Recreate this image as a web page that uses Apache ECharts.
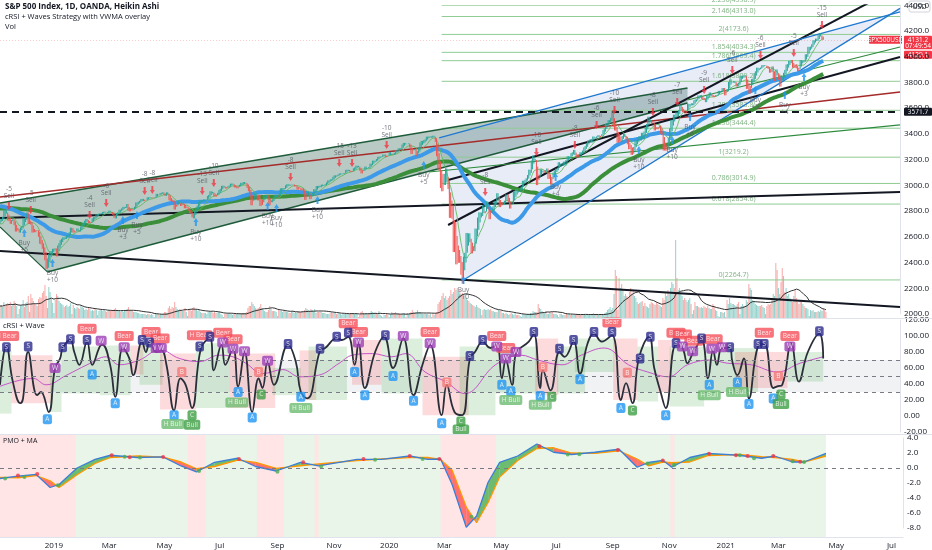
<!DOCTYPE html>
<html>
<head>
<meta charset="utf-8">
<script src="https://cdn.jsdelivr.net/npm/echarts@6/dist/echarts.min.js"></script>
<style>
html, body { margin: 0; padding: 0; background: #fff; }
#main { width: 932px; height: 550px; }
</style>
</head>
<body>
<div id="main"></div>
<script>
var FONT = '"Open Sans", "Liberation Sans", sans-serif';
var NBARS = 704;

// daily closes before the visible range (only used to warm up the averages)
var warmClose = [
  2782, 2787, 2775, 2782, 2780, 2774, 2762, 2767, 2749, 2754,
  2717, 2723, 2699, 2716, 2718, 2726, 2713, 2713, 2736, 2759,
  2784, 2793, 2774, 2798, 2801, 2798, 2809, 2815, 2804, 2801,
  2806, 2820, 2846, 2837, 2818, 2802, 2816, 2813, 2827, 2840,
  2850, 2858, 2857, 2853, 2833, 2821, 2839, 2818, 2840, 2850,
  2857, 2862, 2861, 2856, 2874, 2896, 2897, 2914, 2901, 2902,
  2902, 2897, 2888, 2878, 2872, 2877, 2888, 2888, 2904, 2905,
  2888, 2904, 2907, 2931, 2930, 2919, 2915, 2906, 2915, 2914,
  2924, 2923, 2925, 2901, 2885, 2884, 2881, 2786, 2728, 2767,
  2750, 2810, 2809, 2768, 2768, 2756, 2741, 2656, 2705, 2658,
  2641, 2682, 2711, 2740
];

// daily closes from 2018-11-02 (one per weekday)
var close = [
  2723,
  2738, 2755, 2814, 2806, 2781,  2726, 2722, 2701, 2730, 2736,
  2690, 2641, 2649, 2652, 2633,  2673, 2682, 2744, 2738, 2760,
  2790, 2700, 2702, 2695, 2633,  2637, 2636, 2651, 2650, 2600,
  2546, 2542, 2507, 2467, 2417,  2351, 2360, 2468, 2489, 2486,
  2507, 2508, 2510, 2448, 2532,
  2550, 2574, 2585, 2597, 2596,  2583, 2610, 2616, 2636, 2671,
  2668, 2633, 2639, 2643, 2665,  2644, 2640, 2681, 2704, 2707,
  2725, 2738, 2731, 2706, 2708,  2710, 2744, 2753, 2746, 2776,
  2777, 2780, 2784, 2775, 2793,  2796, 2794, 2792, 2784, 2804,
  2792, 2789, 2771, 2749, 2743,  2784, 2792, 2811, 2808, 2822,
  2833, 2833, 2825, 2855, 2801,  2798, 2818, 2805, 2815, 2834,
  2867, 2867, 2873, 2880, 2893,  2895, 2878, 2888, 2888, 2907,
  2905, 2907, 2900, 2905, 2906,  2908, 2934, 2927, 2926, 2940,
  2943, 2946, 2924, 2918, 2946,  2932, 2884, 2880, 2871, 2881,
  2812, 2834, 2850, 2876, 2860,  2840, 2864, 2856, 2822, 2826,
  2828, 2802, 2783, 2788, 2752,  2744, 2803, 2826, 2843, 2873,
  2886, 2885, 2879, 2891, 2887,  2889, 2917, 2926, 2954, 2950,
  2945, 2917, 2913, 2924, 2942,  2964, 2973, 2996, 2997, 2990,
  2976, 2980, 2993, 3000, 3014,  3014, 3004, 2984, 2995, 2977,
  2986, 3005, 3020, 3004, 3026,  3021, 3013, 2980, 2954, 2932,
  2845, 2881, 2884, 2938, 2919,  2883, 2926, 2840, 2848, 2889,
  2924, 2901, 2925, 2923, 2847,  2878, 2869, 2888, 2924, 2926,
  2924, 2906, 2938, 2976, 2979,  2978, 2979, 3000, 3009, 3007,
  2998, 3005, 3006, 3006, 2992,  2992, 2966, 2984, 2977, 2961,
  2977, 2940, 2887, 2910, 2952,  2938, 2893, 2919, 2938, 2970,
  2966, 2995, 2990, 2997, 2986,  3006, 2996, 3004, 3010, 3023,
  3039, 3036, 3047, 3038, 3067,  3078, 3075, 3077, 3085, 3093,
  3087, 3091, 3094, 3096, 3120,  3122, 3120, 3108, 3104, 3110,
  3133, 3140, 3153, 3152, 3141,  3114, 3093, 3113, 3118, 3146,
  3135, 3133, 3142, 3169, 3169,  3192, 3192, 3191, 3205, 3221,
  3224, 3223, 3224, 3240, 3240,  3221, 3231, 3232, 3258, 3235,
  3246, 3237, 3253, 3275, 3265,  3288, 3283, 3289, 3317, 3330,
  3328, 3321, 3321, 3326, 3295,  3244, 3276, 3273, 3284, 3226,
  3249, 3298, 3334, 3346, 3328,  3352, 3358, 3379, 3374, 3380,
  3381, 3370, 3386, 3373, 3338,  3226, 3128, 3116, 2979, 2954,
  3090, 3003, 3130, 3023, 2972,  2747, 2882, 2741, 2481, 2711,
  2386, 2529, 2398, 2409, 2305,  2237, 2447, 2476, 2630, 2541,
  2627, 2585, 2471, 2527, 2489,  2664, 2659, 2750, 2790, 2789,
  2762, 2846, 2783, 2800, 2875,  2823, 2737, 2799, 2798, 2837,
  2878, 2863, 2939, 2912, 2831,  2842, 2868, 2848, 2881, 2930,
  2930, 2870, 2820, 2852, 2864,  2954, 2923, 2972, 2949, 2955,
  2957, 2992, 3036, 3030, 3044,  3056, 3080, 3122, 3112, 3194,
  3232, 3207, 3190, 3002, 3041,  3067, 3125, 3113, 3115, 3098,
  3118, 3131, 3050, 3084, 3009,  3053, 3100, 3116, 3130, 3131,
  3180, 3145, 3170, 3152, 3185,  3155, 3197, 3227, 3216, 3225,
  3251, 3257, 3276, 3236, 3216,  3239, 3218, 3258, 3246, 3271,
  3295, 3306, 3327, 3349, 3351,  3360, 3333, 3380, 3373, 3373,
  3381, 3390, 3375, 3385, 3397,  3431, 3443, 3479, 3484, 3508,
  3500, 3526, 3580, 3455, 3427,  3425, 3332, 3399, 3339, 3341,
  3384, 3401, 3385, 3357, 3319,  3281, 3315, 3237, 3246, 3298,
  3351, 3335, 3363, 3381, 3348,  3409, 3361, 3419, 3446, 3477,
  3534, 3512, 3489, 3483, 3484,  3427, 3443, 3436, 3453, 3465,
  3401, 3391, 3271, 3310, 3270,  3310, 3370, 3443, 3510, 3509,
  3550, 3546, 3572, 3537, 3585,  3627, 3610, 3568, 3582, 3558,
  3578, 3635, 3630, 3632, 3638,  3622, 3662, 3669, 3666, 3699,
  3691, 3702, 3673, 3668, 3663,  3647, 3695, 3701, 3722, 3709,
  3694, 3687, 3690, 3702, 3703,  3735, 3727, 3732, 3756, 3757,
  3700, 3726, 3748, 3804, 3824,  3799, 3801, 3810, 3795, 3768,
  3770, 3799, 3852, 3853, 3841,  3855, 3849, 3750, 3787, 3714,
  3774, 3826, 3830, 3872, 3887,  3915, 3911, 3910, 3916, 3934,
  3935, 3932, 3931, 3913, 3906,  3876, 3881, 3925, 3829, 3811,
  3901, 3870, 3820, 3768, 3842,  3821, 3875, 3898, 3939, 3943,
  3968, 3962, 3974, 3915, 3913,  3940, 3910, 3889, 3909, 3974,
  3971, 3958, 3973, 4019, 4020,  4077, 4073, 4079, 4097, 4128,
  4127, 4141, 4124, 4170, 4185,  4163, 4134, 4131
];

// daily volume, same bars as close (relative height)
var volume = [
  12,
  13, 11, 16, 12, 14,  15, 13, 16, 12, 14,  17, 15, 12, 4, 9,  13, 12, 18, 11, 15,
  16, 22, 6, 24, 20,  17, 14, 13, 12, 19,  21, 20, 25, 27, 33,  22, 10, 31, 26, 19,
  15, 5, 18, 24, 22,
  17, 15, 14, 13, 11,  12, 13, 11, 12, 15,  4, 13, 10, 9, 11,  10, 9, 12, 11, 10,
  8, 9, 8, 10, 9,  7, 8, 7, 9, 8,  3, 7, 8, 9, 7,  8, 7, 6, 7, 8,
  8, 7, 7, 9, 10,  8, 7, 7, 6, 8,  6, 7, 8, 9, 11,  8, 7, 7, 6, 6,
  6, 5, 5, 4, 4,  4, 4, 4, 3, 4,  4, 3, 4, 3, 1,  4, 4, 4, 3, 4,
  4, 4, 6, 6, 5,  10, 12, 9, 11, 10,  16, 11, 9, 8, 9,  8, 7, 7, 10, 6,
  2, 9, 8, 7, 10,  11, 9, 8, 7, 8,  6, 5, 5, 5, 5,  4, 6, 6, 7, 6,
  5, 6, 5, 5, 6,  6, 4, 3, 1, 4,  4, 4, 5, 4, 4,  3, 4, 5, 4, 5,
  4, 4, 5, 5, 5,  5, 6, 10, 12, 12,  16, 14, 12, 10, 9,  10, 11, 14, 10, 8,
  7, 6, 6, 8, 12,  9, 7, 7, 7, 6,  2, 8, 7, 7, 6,  7, 7, 6, 6, 5,
  5, 6, 7, 5, 6,  5, 7, 6, 6, 7,  6, 8, 10, 9, 8,  7, 9, 8, 7, 9,
  5, 6, 6, 6, 6,  5, 5, 5, 4, 4,  4, 5, 6, 5, 5,  5, 4, 4, 5, 4,
  3, 4, 4, 4, 4,  4, 4, 5, 5, 4,  4, 4, 4, 1, 3,  6, 7, 5, 4, 5,
  4, 4, 5, 7, 6,  5, 5, 4, 4, 7,  3, 2, 1, 3, 3,  4, 3, 1, 4, 6,
  5, 5, 6, 4, 5,  4, 4, 4, 5, 5,  1, 5, 4, 5, 6,  8, 6, 5, 6, 8,
  6, 6, 5, 4, 4,  4, 4, 4, 3, 4,  1, 4, 3, 4, 6,  14, 16, 18, 22, 25,
  20, 22, 18, 20, 22,  28, 24, 26, 30, 28,  30, 26, 28, 24, 25,  22, 24, 20, 18, 17,
  15, 14, 13, 12, 11,  13, 11, 10, 9, 3,  8, 9, 8, 8, 9,  8, 9, 7, 7, 6,
  6, 6, 8, 7, 7,  5, 5, 4, 5, 4,  3, 4, 5, 4, 3,  5, 3, 3, 3, 2,
  1, 4, 4, 3, 4,  4, 4, 5, 5, 7,  6, 6, 6, 14, 10,  9, 7, 5, 5, 7,
  4, 4, 6, 5, 6,  4, 4, 4, 3, 1,  4, 4, 3, 3, 3,  5, 4, 4, 3, 4,
  3, 3, 4, 4, 4,  3, 3, 4, 4, 4,  3, 3, 3, 3, 3,  4, 5, 4, 3, 3,
  3, 3, 4, 4, 3,  5, 6, 8, 9, 11,  8, 10, 24, 48, 42,  8, 40, 30, 34, 28,
  22, 24, 22, 20, 26,  30, 24, 28, 22, 20,  16, 14, 15, 16, 17,  12, 15, 12, 11, 10,
  14, 16, 15, 14, 13,  16, 14, 13, 12, 11,  20, 18, 26, 22, 28,  24, 30, 36, 34, 30,
  80, 40, 28, 30, 24,  22, 18, 20, 18, 16,  18, 20, 14, 4, 8,  16, 12, 12, 11, 10,
  11, 10, 12, 11, 10,  12, 10, 9, 9, 14,  12, 8, 7, 2, 1,  6, 6, 5, 6, 1,
  18, 14, 20, 15, 14,  14, 13, 12, 14, 16,  4, 12, 14, 12, 11,  18, 16, 34, 30, 28,
  18, 16, 14, 13, 12,  12, 12, 13, 11, 10,  4, 12, 14, 13, 14,  20, 24, 22, 55, 48,
  30, 24, 36, 50, 42,  26, 30, 22, 24, 20,  18, 16, 22, 28, 20,  16, 14, 18, 16, 14,
  12, 10, 10, 9, 2,  8, 7, 8, 6, 6,  6, 7, 6, 8, 7,  9, 8, 6
];

// fibonacci retracement levels
var fibRatios = ['0', '0.618', '0.786', '1', '1.236', '1.382', '1.618', '1.786', '1.854', '2', '2.146', '2.236'];
var fibPrices = [2264.7, 2854.6, 3014.9, 3219.2, 3444.4, 3583.8, 3809.2, 3969.4, 4034.3, 4173.6, 4313.0, 4398.9];
var fibStart = 345, fibEnd = 703, fibLabelAt = 573;

// drawn trend lines [bar, price]
var redLine = [[0, 2910], [703, 3726]];
var blackA = [[0, 2490], [703, 2054]];
var blackB = [[0, 2746], [703, 2949]];
var blackC = [[350, 2692], [703, 4548]];
var blackD = [[350, 3042], [703, 3998]];
var greenThin1 = [[335, 3104], [703, 3470]];
var greenThin2 = [[537, 3664], [703, 4076]];
var channelPoly = [[0, 2863], [537, 3757], [537, 3641], [37, 2327], [0, 2677]];
var channelUpper = [[0, 2863], [537, 3757]];
var channelLower = [[37, 2327], [537, 3641]];
var channelLeft = [[0, 2677], [37, 2327]];
var wedgePoly = [[343, 3369], [703, 4348], [703, 4376], [362, 2264]];
var wedgeUpper = [[343, 3369], [703, 4348]];
var wedgeLower = [[362, 2264], [703, 4376]];
var lastPrice = 4131.2, markedLevel = 3571.7;

// strategy signals [bar, price, size]
var sells = [[7, 2840, -5], [24, 2809, -5], [70, 2770, -4], [83, 2863, -6], [113, 2956, -8], [119, 2964, -8],
  [158, 2956, -13], [167, 3019, -10], [227, 3065, -8], [265, 3174, -15], [275, 3174, -13], [302, 3314, -10],
  [379, 2949, -8], [419, 3260, -10], [449, 3314, -8], [466, 3470, -6], [480, 3586, -10], [510, 3571, -8],
  [529, 3648, -7], [550, 3742, -9], [572, 3897, -6], [594, 4014, -6], [620, 4030, -5], [642, 4247, -15]];
var buys = [[19, 2630, 5], [41, 2397, 10], [96, 2731, 3], [107, 2770, 5], [153, 2715, 10], [209, 2840, 10],
  [216, 2824, 10], [248, 2886, 10], [331, 3159, 5], [362, 2264, 10], [434, 3065, 4], [499, 3275, 10],
  [525, 3353, 10], [539, 3532, 6], [590, 3742, 5], [613, 3703, 4], [628, 3843, 3]];

// cRSI pane
var crsiLine = [[0, 39], [5, 88], [10, 43], [16, 16], [18, 22], [22, 80], [29, 26], [32, 30], [38, 5], [43, 60],
  [47, 72], [49, 85], [55, 95], [58, 80], [62, 64], [68, 93], [72, 64], [78, 87], [80, 89], [86, 64], [90, 24],
  [96, 85], [101, 72], [104, 51], [111, 93], [114, 80], [117, 93], [122, 80], [126, 82], [130, 64], [136, 7],
  [141, 47], [145, 39], [150, 10], [157, 85], [164, 97], [167, 57], [173, 89], [176, 64], [182, 85], [186, 37],
  [191, 80], [197, 5], [202, 47], [205, 35], [209, 68], [214, 39], [225, 89], [231, 68], [235, 30], [240, 22],
  [250, 82], [254, 85], [263, 97], [267, 95], [272, 99], [277, 64], [280, 91], [285, 35], [293, 80], [300, 99],
  [307, 60], [315, 97], [323, 26], [330, 64], [336, 89], [345, 1], [349, 39], [355, 5], [361, 1], [367, 72],
  [371, 80], [377, 93], [383, 85], [388, 89], [392, 47], [395, 70], [400, 39], [403, 78], [413, 93], [417, 103],
  [422, 35], [424, 57], [430, 32], [437, 80], [441, 74], [448, 93], [453, 53], [459, 91], [464, 103], [470, 93],
  [478, 101], [485, 20], [489, 41], [494, 16], [499, 72], [507, 99], [511, 60], [516, 30], [520, 10], [528, 89],
  [533, 85], [537, 66], [541, 78], [548, 95], [553, 47], [557, 82], [560, 64], [564, 85], [570, 85], [572, 68],
  [576, 51], [581, 72], [585, 22], [592, 87], [597, 90], [604, 35], [607, 37], [611, 39], [618, 91], [624, 43],
  [631, 80], [640, 103], [643, 72]];
var crsiSignal = [[0, 37], [26, 47], [36, 39], [52, 51], [68, 64], [83, 74], [93, 64], [109, 70], [125, 83],
  [140, 72], [156, 68], [171, 76], [182, 74], [192, 66], [205, 53], [221, 58], [234, 49], [249, 51], [265, 66],
  [275, 76], [291, 78], [306, 74], [317, 78], [332, 55], [348, 43], [363, 28], [387, 64], [407, 76], [420, 70],
  [439, 64], [454, 76], [472, 85], [491, 64], [506, 55], [522, 49], [537, 64], [555, 70], [568, 66], [587, 64],
  [607, 55], [625, 66], [643, 74]];
// wave zones [fromBar, toBar, low, high, 1 = green / 0 = red]
var waveBoxes = [[0, 9, 3, 82, 1], [9, 41, 16, 76, 0], [39, 48, 5, 64, 1], [48, 78, 28, 87, 1], [78, 102, 26, 88, 1],
  [102, 112, 52, 88, 0], [109, 127, 39, 91, 1], [125, 153, 8, 78, 0], [153, 179, 10, 91, 1], [179, 215, 10, 78, 0],
  [213, 235, 26, 60, 1], [234, 247, 20, 82, 0], [241, 271, 20, 87, 1], [275, 298, 39, 95, 0], [298, 330, 28, 97, 1],
  [330, 366, 1, 74, 0], [359, 387, 1, 87, 1], [387, 420, 28, 87, 1], [418, 436, 26, 97, 0], [435, 457, 28, 87, 1],
  [449, 480, 55, 97, 1], [479, 498, 20, 97, 0], [498, 514, 18, 87, 1], [514, 524, 30, 95, 0], [523, 550, 12, 87, 1],
  [550, 592, 30, 85, 1], [574, 615, 35, 80, 0], [615, 643, 43, 80, 1]];
var tagBear = [[68, 109], [97, 100], [118, 105], [125, 97], [174, 104], [182, 96], [272, 116], [280, 105], [336, 105],
  [388, 100], [395, 85], [478, 117], [528, 104], [533, 102], [542, 94], [557, 96], [597, 104], [617, 100]];
var tagHBear = [[5, 100], [156, 101]];
var tagS = [[5, 86], [22, 87], [49, 86], [55, 96], [68, 95], [111, 95], [117, 92], [156, 87], [164, 99], [225, 90],
  [250, 84], [263, 99], [272, 104], [301, 101], [367, 75], [377, 95], [417, 105], [437, 84], [448, 95], [464, 105],
  [478, 105], [500, 72], [508, 99], [528, 91], [548, 97], [570, 86], [592, 90], [597, 90], [640, 106]];
var tagW = [[43, 60], [79, 94], [97, 86], [122, 85], [126, 85], [174, 92], [182, 84], [191, 81], [209, 69], [280, 92],
  [315, 100], [336, 91], [388, 87], [395, 72], [403, 80], [533, 87], [541, 81], [556, 84], [564, 86], [617, 87]];
var tagA = [[37, -4], [72, 52], [90, 16], [136, 1], [186, 30], [197, -2], [235, 24], [277, 55], [285, 26], [307, 50],
  [323, 19], [345, -9], [392, 39], [399, 31], [422, 25], [453, 46], [485, 10], [520, 1], [554, 39], [576, 42],
  [585, 15], [604, 22]];
var tagB = [[142, 55], [202, 55], [349, 42], [424, 61], [490, 54], [608, 50]];
var tagC = [[150, 1], [204, 27], [360, -7], [431, 24], [494, 7], [610, 27]];
var tagHBull = [[135, -10], [185, 17], [235, 10], [399, 20], [422, 14], [554, 26], [576, 30]];
var tagBull = [[150, -11], [360, -17], [610, 15]];

// PMO pane
var pmoIdx = [0, 14, 28, 39, 46, 60, 74, 86, 107, 127, 141, 153, 167, 185, 199, 215, 234, 248, 278, 297, 319, 333,
  343, 352, 363, 371, 380, 389, 403, 418, 431, 445, 463, 482, 496, 505, 516, 523, 537, 551, 575, 593, 603, 617, 626, 643];
var pmoVal = [-1.4, -1.07, -0.85, -2.6, -2.2, 0, 1.16, 1.7, 1.4, 1.47, 0.27, -0.53, 0.76, 1.3, 0.2, -0.4, 0.76, 0.27,
  1.16, 1.16, 1.6, 1.16, 1.2, -2.2, -7.9, -6.4, -1.9, 0.76, 1.6, 3.2, 2.1, 1.8, 2.1, 2.5, 0.1, 0.76, 1.03, 0.1, 1.4,
  1.96, 1.7, 1.3, 1.6, 0.8, 0.8, 1.96];
var pmoSig = [-1.25, -1.3, -1.0, -1.7, -2.6, -0.9, 0.6, 1.4, 1.6, 1.45, 0.8, -0.1, 0.2, 1.05, 0.75, -0.05, 0.3, 0.55,
  1.0, 1.2, 1.4, 1.4, 1.15, -0.3, -5.2, -7.3, -4.6, -1.2, 1.0, 2.6, 2.7, 2.0, 1.95, 2.3, 1.2, 0.3, 0.8, 0.7, 0.8,
  1.65, 1.8, 1.5, 1.4, 1.15, 0.8, 1.6];
var pmoDotsRed = [[14, -1.0], [29, -0.8], [87, 1.7], [101, 1.45], [127, 1.47], [186, 1.2], [236, 0.76], [283, 1.2],
  [319, 1.6], [342, 1.2], [420, 2.9], [481, 2.4], [516, 1.0], [552, 1.9], [573, 1.7], [582, 1.6], [602, 1.6], [623, 0.85]];
var pmoDotsGreen = [[4, -1.4], [19, -1.2], [45, -2.3], [97, 1.5], [109, 1.4], [155, -0.4], [216, -0.5], [250, 0.2],
  [292, 1.1], [329, 1.2], [367, -6.5], [442, 1.8], [451, 1.85], [504, 0.6], [525, 0.4], [576, 1.7], [587, 1.3],
  [617, 0.9], [626, 0.8]];
// trend background [fromBar, toBar, 1 = up / 0 = down]
var trendBands = [[0, 59, 0], [59, 146, 1], [146, 160, 0], [160, 200, 1], [200, 221, 0], [221, 245, 1], [245, 248, 0],
  [248, 343, 1], [343, 386, 0], [386, 522, 1], [522, 525, 0], [525, 643, 1]];

var MONTHS = ['Jan', 'Feb', 'Mar', 'Apr', 'May', 'Jun', 'Jul', 'Aug', 'Sep', 'Oct', 'Nov', 'Dec'];

// weekday categories
var dates = [];
var d = new Date(Date.UTC(2018, 10, 2));
while (dates.length < NBARS) {
  var wd = d.getUTCDay();
  if (wd !== 0 && wd !== 6) dates.push(new Date(d.getTime()));
  d.setUTCDate(d.getUTCDate() + 1);
}
var cats = dates.map(function (t) { return t.toISOString().slice(0, 10); });

function showTick(i) {
  if (i === 0) return false;
  var m = dates[i].getUTCMonth();
  return m !== dates[i - 1].getUTCMonth() && m % 2 === 0;
}

// heikin ashi from closes
var all = warmClose.concat(close);
var W = warmClose.length;
var haO = [], haC = [], candles = [];
for (var i = 0; i < all.length; i++) {
  var o = i ? all[i - 1] : all[0], c = all[i];
  var hc = (o + c) / 2;
  var ho = i ? (haO[i - 1] + haC[i - 1]) / 2 : hc;
  haO.push(ho); haC.push(hc);
  if (i >= W) candles.push([ho, hc, Math.min(o, c, ho), Math.max(o, c, ho)]);
}

function sma(arr, n, from) {
  var out = [];
  for (var i = from; i < arr.length; i++) {
    var s = 0, k = 0;
    for (var j = Math.max(0, i - n + 1); j <= i; j++) { s += arr[j]; k++; }
    out.push(+(s / k).toFixed(1));
  }
  return out;
}
var maSlow = sma(all, 100, W);
var maMid = sma(all, 50, W);
var maFast = sma(all, 10, W);
var volMa = sma(volume, 20, 0);

var volBars = volume.map(function (v, i) {
  var prev = i ? close[i - 1] : warmClose[W - 1];
  return { value: v, itemStyle: { color: close[i] >= prev ? 'rgba(38,166,154,0.5)' : 'rgba(239,83,80,0.5)' } };
});

function xAx(grid, labels) {
  return {
    type: 'category', gridIndex: grid, data: cats, boundaryGap: false,
    axisLine: { show: labels, lineStyle: { color: '#e0e3eb' } }, axisTick: { show: false },
    splitLine: { show: false },
    axisLabel: labels ? {
      interval: function (idx) { return showTick(idx); },
      formatter: function (v, idx) {
        var t = dates[idx];
        return t.getUTCMonth() === 0 ? String(t.getUTCFullYear()) : MONTHS[t.getUTCMonth()];
      },
      color: '#131722', fontSize: 8, fontFamily: FONT, margin: 5
    } : { show: false }
  };
}
function yAx(grid, min, max, interval, digits) {
  var ax = {
    type: 'value', gridIndex: grid, min: min, max: max, position: 'right',
    splitLine: { show: false }, axisTick: { show: false }
  };
  if (interval === null) {
    ax.show = false;
  } else {
    ax.interval = interval;
    ax.axisLine = { show: true, lineStyle: { color: '#e0e3eb' } };
    ax.axisLabel = { color: '#131722', fontSize: 8, fontFamily: FONT, margin: 4,
      formatter: function (v) { return v.toFixed(digits); } };
  }
  return ax;
}
function seg(data, color, width, z, dash) {
  return { type: 'line', xAxisIndex: 0, yAxisIndex: 0, data: data, symbol: 'none', silent: true, z: z || 3,
    lineStyle: { color: color, width: width, type: dash || 'solid' } };
}
function polygon(points, fill) {
  return {
    type: 'custom', xAxisIndex: 0, yAxisIndex: 0, data: [[0, 3000]], clip: true, silent: true, z: 1,
    renderItem: function (params, api) {
      return { type: 'polygon', shape: { points: points.map(function (p) { return api.coord(p); }) },
        style: { fill: fill } };
    }
  };
}
function tag(data, text, bg) {
  return {
    type: 'scatter', xAxisIndex: 2, yAxisIndex: 2, data: data, symbolSize: 1, silent: true, z: 8,
    itemStyle: { color: 'rgba(0,0,0,0)' },
    label: { show: true, position: 'inside', formatter: text, backgroundColor: bg, color: '#fff',
      fontSize: 6.5, fontFamily: FONT, padding: [2, 2.5, 1, 2.5], borderRadius: 2, lineHeight: 7 }
  };
}

var DOWN = 'path://M3,0 L7,0 L7,6 L10,6 L5,12 L0,6 L3,6 Z';
var UP = 'path://M5,0 L10,6 L7,6 L7,12 L3,12 L3,6 L0,6 Z';

var chart = echarts.init(document.getElementById('main'));
var option = {
  animation: false,
  backgroundColor: '#fff',
  grid: [
    { left: 0, right: 29, top: 5.3, height: 308.7 },
    { left: 0, right: 29, top: 240, height: 78 },
    { left: 0, right: 29, top: 320, height: 112 },
    { left: 0, right: 29, top: 435, height: 102 },
    { left: 0, right: 29, top: 438, height: 90 }
  ],
  xAxis: [xAx(0, false), xAx(1, false), xAx(2, false), xAx(3, true), xAx(4, false)],
  yAxis: [
    yAx(0, 2000, 4400, 200, 1),
    yAx(1, 0, 78, null),
    yAx(2, -20, 120, 20, 2),
    yAx(3, 0, 1, null),
    yAx(4, -8, 4, 2, 1)
  ],
  series: [
    // price pane
    polygon(channelPoly, 'rgba(38,90,70,0.32)'),
    polygon(wedgePoly, 'rgba(120,144,200,0.17)'),
    {
      type: 'custom', xAxisIndex: 0, yAxisIndex: 0, clip: true, silent: true, z: 2,
      data: fibPrices.map(function (p) { return [fibStart, fibEnd, p]; }),
      encode: { x: [0, 1], y: 2 },
      renderItem: function (params, api) {
        var a = api.coord([api.value(0), api.value(2)]);
        var b = api.coord([api.value(1), api.value(2)]);
        return { type: 'line', shape: { x1: a[0], y1: a[1], x2: b[0], y2: b[1] },
          style: { stroke: '#8fcc92', lineWidth: 1 } };
      }
    },
    {
      type: 'scatter', xAxisIndex: 0, yAxisIndex: 0, symbolSize: 1, silent: true, z: 2,
      itemStyle: { color: 'rgba(0,0,0,0)' },
      data: fibPrices.map(function (p, k) { return [fibLabelAt, p, fibRatios[k] + '(' + p.toFixed(1) + ')']; }),
      label: { show: true, position: 'top', distance: 1, color: '#5e9f61', fontSize: 7, fontFamily: FONT,
        formatter: function (p) { return p.value[2]; } }
    },
    seg(channelUpper, '#1e5b3a', 1.6),
    seg(channelLower, '#1e5b3a', 1.6),
    seg(channelLeft, '#1e5b3a', 1.2),
    seg(redLine, '#a52a2a', 1.5),
    seg(blackA, '#131722', 2),
    seg(blackB, '#131722', 2),
    seg(blackC, '#131722', 2),
    seg(blackD, '#131722', 2),
    seg(wedgeUpper, '#1e78d0', 1.3),
    seg(wedgeLower, '#1e78d0', 1.3),
    seg(greenThin1, '#2e8b3e', 1.2),
    seg(greenThin2, '#2e8b3e', 1.2),
    { type: 'line', xAxisIndex: 0, yAxisIndex: 0, data: maSlow, symbol: 'none', silent: true, z: 4,
      lineStyle: { color: '#3c8f3a', width: 4 } },
    { type: 'line', xAxisIndex: 0, yAxisIndex: 0, data: maMid, symbol: 'none', silent: true, z: 4,
      lineStyle: { color: '#3d9ae8', width: 4 } },
    { type: 'line', xAxisIndex: 0, yAxisIndex: 0, data: maFast, symbol: 'none', silent: true, z: 4,
      lineStyle: { color: '#5cb85c', width: 1, opacity: 0.85 } },
    {
      type: 'candlestick', xAxisIndex: 0, yAxisIndex: 0, data: candles, z: 5, silent: true,
      barWidth: '80%',
      itemStyle: { color: '#26a69a', color0: '#ef5350', borderColor: '#26a69a', borderColor0: '#ef5350', borderWidth: 1 },
      markLine: {
        silent: true, symbol: ['none', 'none'], label: { show: false },
        data: [
          { yAxis: markedLevel, lineStyle: { color: '#131722', width: 2, type: [7, 5] } },
          { yAxis: lastPrice, lineStyle: { color: '#f23645', width: 1, type: [1, 2], opacity: 0.25 } }
        ]
      }
    },
    {
      type: 'scatter', xAxisIndex: 0, yAxisIndex: 0, data: sells, symbol: DOWN, symbolSize: [5, 8], z: 6, silent: true,
      itemStyle: { color: '#f23645' },
      label: { show: true, position: 'top', distance: 2, color: '#50535e', fontSize: 6.5, fontFamily: FONT,
        lineHeight: 7.5, formatter: function (p) { return p.value[2] + '\nSell'; } }
    },
    {
      type: 'scatter', xAxisIndex: 0, yAxisIndex: 0, data: buys, symbol: UP, symbolSize: [5, 8], z: 6, silent: true,
      itemStyle: { color: '#2196f3' },
      label: { show: true, position: 'bottom', distance: 2, color: '#50535e', fontSize: 6.5, fontFamily: FONT,
        lineHeight: 7.5, formatter: function (p) { return 'Buy\n+' + p.value[2]; } }
    },
    // volume
    { type: 'bar', xAxisIndex: 1, yAxisIndex: 1, data: volBars, barCategoryGap: '25%', silent: true, z: 1 },
    { type: 'line', xAxisIndex: 1, yAxisIndex: 1, data: volMa, symbol: 'none', silent: true, z: 2,
      lineStyle: { color: '#333', width: 1 } },
    // cRSI
    {
      type: 'custom', xAxisIndex: 2, yAxisIndex: 2, data: waveBoxes, clip: true, silent: true, z: 1,
      encode: { x: [0, 1], y: [2, 3] },
      renderItem: function (params, api) {
        var a = api.coord([api.value(0), api.value(3)]);
        var b = api.coord([api.value(1), api.value(2)]);
        return { type: 'rect', shape: { x: a[0], y: a[1], width: b[0] - a[0], height: b[1] - a[1] },
          style: { fill: api.value(4) ? 'rgba(76,175,80,0.2)' : 'rgba(242,54,69,0.18)' } };
      }
    },
    { type: 'line', xAxisIndex: 2, yAxisIndex: 2, data: crsiSignal, symbol: 'none', smooth: 0.4, silent: true, z: 3,
      lineStyle: { color: '#c653c9', width: 1 } },
    {
      type: 'line', xAxisIndex: 2, yAxisIndex: 2, data: crsiLine, symbol: 'none', smooth: 0.45, silent: true, z: 4,
      lineStyle: { color: '#2a2e39', width: 1.8 },
      markArea: { silent: true, itemStyle: { color: 'rgba(120,123,134,0.1)' }, data: [[{ yAxis: 30 }, { yAxis: 70 }]] },
      markLine: {
        silent: true, symbol: ['none', 'none'], label: { show: false },
        lineStyle: { color: '#787b86', width: 1, type: [4, 4] },
        data: [{ yAxis: 70 }, { yAxis: 50 }, { yAxis: 30 }]
      }
    },
    tag(tagBear, 'Bear', '#f5515b'),
    tag(tagHBear, 'H Bear', '#f5515b'),
    tag(tagS, 'S', '#2c2a8c'),
    tag(tagW, 'W', '#9c3fb5'),
    tag(tagA, 'A', '#2196f3'),
    tag(tagB, 'B', '#f57b7b'),
    tag(tagC, 'C', '#3f9f45'),
    tag(tagHBull, 'H Bull', '#6dbb70'),
    tag(tagBull, 'Bull', '#3f9f45'),
    // PMO background
    {
      type: 'custom', xAxisIndex: 3, yAxisIndex: 3, data: trendBands, clip: true, silent: true, z: 0,
      encode: { x: [0, 1], y: 2 },
      renderItem: function (params, api) {
        var a = api.coord([api.value(0), 1]);
        var b = api.coord([api.value(1), 0]);
        return { type: 'rect', shape: { x: a[0], y: a[1], width: b[0] - a[0], height: b[1] - a[1] },
          style: { fill: api.value(2) ? 'rgba(76,175,80,0.13)' : 'rgba(255,82,82,0.15)' } };
      }
    },
    // PMO fill between PMO and its signal, one piece per pair of neighbouring points
    {
      type: 'custom', xAxisIndex: 4, yAxisIndex: 4, data: [[0, 0]], clip: true, silent: true, z: 2,
      renderItem: function (params, api) {
        var kids = [];
        for (var k = 0; k < pmoIdx.length - 1; k++) {
          var x1 = pmoIdx[k], x2 = pmoIdx[k + 1];
          var up = (pmoVal[k] + pmoVal[k + 1]) >= (pmoSig[k] + pmoSig[k + 1]);
          kids.push({ type: 'polygon',
            shape: { points: [api.coord([x1, pmoVal[k]]), api.coord([x2, pmoVal[k + 1]]),
              api.coord([x2, pmoSig[k + 1]]), api.coord([x1, pmoSig[k]])] },
            style: { fill: up ? 'rgba(76,175,80,0.8)' : 'rgba(255,82,82,0.8)' } });
        }
        return { type: 'group', children: kids };
      },
      markLine: { silent: true, symbol: ['none', 'none'], label: { show: false },
        lineStyle: { color: '#787b86', width: 1, type: [4, 4] }, data: [{ yAxis: 0 }] }
    },
    { type: 'line', xAxisIndex: 4, yAxisIndex: 4, data: pmoIdx.map(function (x, k) { return [x, pmoSig[k]]; }),
      symbol: 'none', silent: true, z: 3, lineStyle: { color: '#ff9800', width: 1.3 } },
    { type: 'line', xAxisIndex: 4, yAxisIndex: 4, data: pmoIdx.map(function (x, k) { return [x, pmoVal[k]]; }),
      symbol: 'none', silent: true, z: 3, lineStyle: { color: '#3b7fd9', width: 1.3 } },
    { type: 'scatter', xAxisIndex: 4, yAxisIndex: 4, data: pmoDotsRed, symbolSize: 4, silent: true, z: 4,
      itemStyle: { color: '#f23645' } },
    { type: 'scatter', xAxisIndex: 4, yAxisIndex: 4, data: pmoDotsGreen, symbolSize: 4, silent: true, z: 4,
      itemStyle: { color: '#4caf50' } }
  ]
};
chart.setOption(option);

// labels and price badges placed through the price scale
var yLast = chart.convertToPixel({ yAxisIndex: 0 }, lastPrice);
var yMark = chart.convertToPixel({ yAxisIndex: 0 }, markedLevel);
function badge(x, y, w, h, fill, lines) {
  var kids = [{ type: 'rect', shape: { x: x, y: y, width: w, height: h, r: 1 }, style: { fill: fill } }];
  lines.forEach(function (t, k) {
    kids.push({ type: 'text', style: { text: t, x: x + w / 2, y: y + 4 + k * 6, align: 'center', verticalAlign: 'middle',
      fill: '#fff', fontSize: 6.5, fontFamily: FONT } });
  });
  return { type: 'group', children: kids, z: 100 };
}
chart.setOption({
  graphic: [
    { type: 'rect', shape: { x: 0, y: 318, width: 932, height: 1 }, style: { fill: '#e0e3eb' }, z: 90 },
    { type: 'rect', shape: { x: 0, y: 434, width: 932, height: 1 }, style: { fill: '#e0e3eb' }, z: 90 },
    { type: 'text', left: 5, top: 3, z: 100, style: { text: 'S&P 500 Index, 1D, OANDA, Heikin Ashi', fill: '#131722',
      fontSize: 8, fontWeight: 'bold', fontFamily: FONT } },
    { type: 'text', left: 5, top: 13, z: 100, style: { text: 'cRSI + Waves Strategy with VWMA overlay', fill: '#131722',
      fontSize: 7.5, fontFamily: FONT } },
    { type: 'text', left: 5, top: 23, z: 100, style: { text: 'Vol', fill: '#131722', fontSize: 7.5, fontFamily: FONT } },
    { type: 'text', left: 3, top: 322, z: 100, style: { text: 'cRSI + Wave', fill: '#131722', fontSize: 7.5, fontFamily: FONT } },
    { type: 'text', left: 3, top: 437, z: 100, style: { text: 'PMO + MA', fill: '#131722', fontSize: 7, fontFamily: FONT } },
    { type: 'group', z: 100, children: [
      { type: 'rect', shape: { x: 905, y: 0, width: 27, height: 13 }, style: { fill: '#fff' } },
      { type: 'rect', shape: { x: 909, y: 1, width: 21, height: 11, r: 2 }, style: { fill: '#fff', stroke: '#d1d4dc' } },
      { type: 'text', style: { text: 'USD', x: 919.5, y: 6.5, align: 'center', verticalAlign: 'middle', fill: '#131722',
        fontSize: 7, fontFamily: FONT } }
    ] },
    badge(869, yLast - 4, 33, 8, '#f23645', ['SPX500USD']),
    badge(904, yLast - 4, 28, 13.5, '#f23645', ['4131.2', '07:49:54']),
    badge(904, yLast + 11, 28, 8, '#f23645', ['4129.1']),
    badge(904, yMark - 4, 28, 8, '#131722', [markedLevel.toFixed(1)])
  ]
});
</script>
</body>
</html>
